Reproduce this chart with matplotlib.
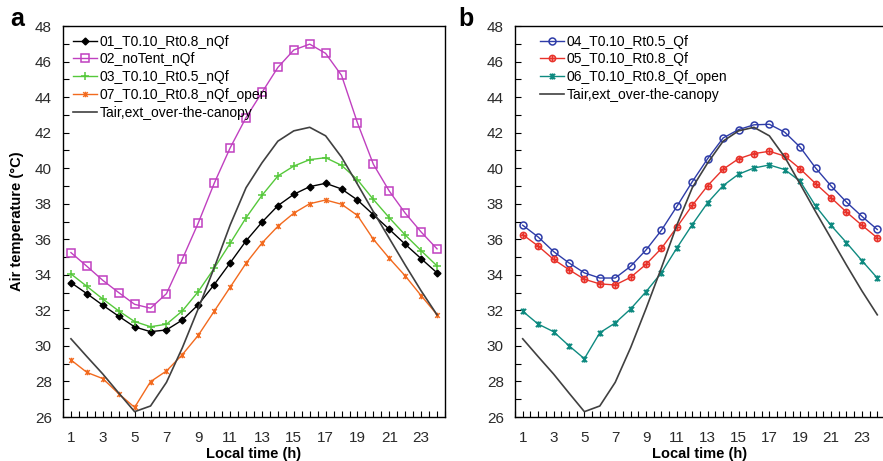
import numpy as np
import matplotlib
matplotlib.use("Agg")
import matplotlib.pyplot as plt
from matplotlib.path import Path
from matplotlib.ticker import MultipleLocator, FixedLocator

plt.rcParams['font.family'] = ['Liberation Sans', 'DejaVu Sans']
plt.rcParams['font.size'] = 10

hours = list(range(1, 25))

# panel a
s01 = [33.56, 32.94, 32.29, 31.67, 31.07, 30.80, 30.90, 31.46, 32.32, 33.45, 34.67, 35.91,
       36.96, 37.89, 38.53, 38.96, 39.15, 38.83, 38.21, 37.38, 36.56, 35.72, 34.91, 34.11]
s02 = [35.25, 34.48, 33.69, 33.00, 32.34, 32.12, 32.94, 34.89, 36.92, 39.15, 41.14, 42.85,
       44.26, 45.67, 46.65, 46.98, 46.46, 45.22, 42.55, 40.22, 38.71, 37.47, 36.41, 35.46]
s03 = [34.05, 33.35, 32.64, 31.97, 31.37, 31.08, 31.22, 31.97, 33.06, 34.37, 35.77, 37.21,
       38.47, 39.56, 40.12, 40.48, 40.59, 40.16, 39.35, 38.24, 37.21, 36.24, 35.36, 34.50]
s07 = [29.21, 28.51, 28.16, 27.31, 26.54, 27.99, 28.59, 29.51, 30.60, 31.95, 33.30, 34.65,
       35.79, 36.73, 37.47, 38.00, 38.21, 37.97, 37.34, 36.00, 34.93, 33.94, 32.83, 31.76]

# panel b
s04 = [36.79, 36.13, 35.31, 34.67, 34.11, 33.82, 33.82, 34.48, 35.40, 36.51, 37.85, 39.24,
       40.54, 41.70, 42.17, 42.44, 42.47, 42.02, 41.18, 40.01, 39.00, 38.09, 37.29, 36.55]
s05 = [36.26, 35.62, 34.87, 34.29, 33.75, 33.49, 33.43, 33.86, 34.59, 35.49, 36.68, 37.91,
       39.02, 39.94, 40.53, 40.82, 40.95, 40.68, 39.96, 39.13, 38.34, 37.53, 36.79, 36.08]
s06 = [31.95, 31.23, 30.80, 30.01, 29.28, 30.74, 31.29, 32.08, 33.05, 34.12, 35.51, 36.83,
       38.06, 39.02, 39.66, 40.01, 40.18, 39.92, 39.26, 37.87, 36.78, 35.81, 34.80, 33.82]

# over-the-canopy air temperature (both panels)
tair = [30.40, 29.40, 28.42, 27.35, 26.30, 26.62, 27.95, 29.90, 32.10, 34.40, 36.80, 38.90,
        40.30, 41.52, 42.10, 42.30, 41.82, 40.62, 39.10, 37.55, 36.05, 34.55, 33.10, 31.75]

# excel-like markers
star = Path([(-1, -1), (1, 1), (-1, 1), (1, -1), (0, -1.2), (0, 1.2)],
            [Path.MOVETO, Path.LINETO, Path.MOVETO, Path.LINETO, Path.MOVETO, Path.LINETO])
plus = Path([(-1, 0), (1, 0), (0, -1), (0, 1)],
            [Path.MOVETO, Path.LINETO, Path.MOVETO, Path.LINETO])
circ_plus = Path.make_compound_path(Path.unit_circle(), plus)

fig = plt.figure(figsize=(8.83, 4.61), dpi=100)
ax1 = fig.add_axes([63 / 883, 44 / 461, 382 / 883, 391 / 461])
ax2 = fig.add_axes([515 / 883, 44 / 461, 370 / 883, 391 / 461])

lw = 1.0
ax1.plot(hours, s01, color='black', marker='D', ms=3.5, lw=lw, label='01_T0.10_Rt0.8_nQf')
ax1.plot(hours, s02, color='#C040C0', marker='s', ms=5.5, mfc='none', mew=1.1, lw=lw,
         label='02_noTent_nQf')
ax1.plot(hours, s03, color='#55C83A', marker='+', ms=6, mew=1.1, lw=lw, label='03_T0.10_Rt0.5_nQf')
ax1.plot(hours, s07, color='#F26A1E', marker=star, ms=4, mfc='none', mew=1.0, lw=lw,
         label='07_T0.10_Rt0.8_nQf_open')
ax1.plot(hours, tair, color='#404040', lw=1.2, label='Tair,ext_over-the-canopy')

ax2.plot(hours, s04, color='#2E3CA8', marker='o', ms=5, mfc='none', mew=1.1, lw=lw,
         label='04_T0.10_Rt0.5_Qf')
ax2.plot(hours, s05, color='#E8322A', marker=circ_plus, ms=4.5, mfc='none', mew=1.1, lw=lw,
         label='05_T0.10_Rt0.8_Qf')
ax2.plot(hours, s06, color='#0E8A80', marker=star, ms=4.5, mfc='none', mew=1.3, lw=lw,
         label='06_T0.10_Rt0.8_Qf_open')
ax2.plot(hours, tair, color='#404040', lw=1.2, label='Tair,ext_over-the-canopy')

for ax in (ax1, ax2):
    ax.set_xlim(0.5, 24.5)
    ax.set_ylim(26, 48)
    ax.yaxis.set_major_locator(MultipleLocator(2))
    ax.yaxis.set_minor_locator(MultipleLocator(1))
    ax.xaxis.set_major_locator(FixedLocator(list(range(1, 25, 2))))
    ax.xaxis.set_minor_locator(MultipleLocator(0.5))
    ax.tick_params(which='both', direction='in', length=4, width=0.8, colors='black',
                   labelcolor='#2a2a2a', labelsize=11)
    ax.tick_params(axis='x', which='major', pad=10)
    ax.tick_params(axis='y', which='major', pad=8)
    for sp in ax.spines.values():
        sp.set_linewidth(1.0)
    ax.set_xlabel('Local time (h)', fontweight='bold', fontsize=10.5, va='center')
    ax.xaxis.set_label_coords(0.5, -0.094)

ax1.set_ylabel('Air temperature (°C)', fontweight='bold', fontsize=10.5, labelpad=8)

ax1.legend(loc='upper left', bbox_to_anchor=(0.026, 0.978), frameon=False, borderaxespad=0,
           borderpad=0, handlelength=1.7, handletextpad=0.2, labelspacing=0.27, fontsize=10)
ax2.legend(loc='upper left', bbox_to_anchor=(0.068, 0.978), frameon=False, borderaxespad=0,
           borderpad=0, handlelength=1.7, handletextpad=0.2, labelspacing=0.27, fontsize=10)

fig.text(10 / 883, 1 - 26 / 461, 'a', fontsize=18, fontweight='bold', va='baseline')
fig.text(458 / 883, 1 - 26 / 461, 'b', fontsize=18, fontweight='bold', va='baseline')

fig.savefig('out.png', dpi=100)
